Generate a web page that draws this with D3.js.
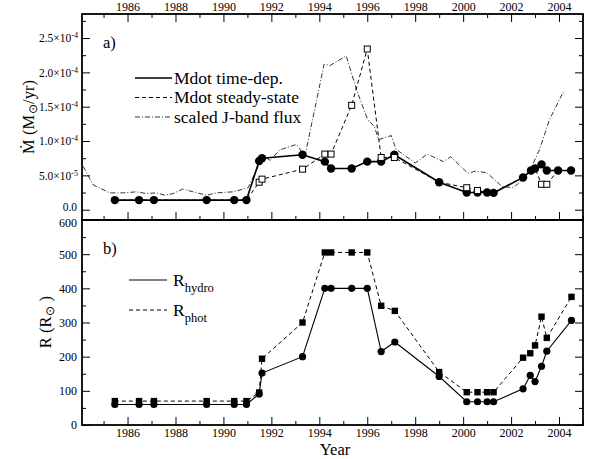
<!DOCTYPE html>
<html>
<head>
<meta charset="utf-8">
<script src="https://cdnjs.cloudflare.com/ajax/libs/d3/7.8.5/d3.min.js"></script>
<style>
  body { margin: 0; background: #fff; }
  svg, svg text { font-family: "Liberation Serif", "Times New Roman", serif; fill: #000; }
  .axis path { display: none; }
  .axis line { stroke: #000; stroke-width: 1; }
</style>
</head>
<body>
<svg id="chart"></svg>
<script>

    var width = 593,
        height = 459;
    var serif = "Liberation Serif, Times New Roman, serif";

    // panel a) mass-loss rate (Msun/yr)
    var tdYears = [1985.47, 1986.48, 1987.1, 1989.3, 1990.45, 1990.96, 1991.49, 1991.61, 1993.3, 1994.23, 1994.49,
                   1995.35, 1996.0, 1996.58, 1997.13, 1999.0, 2000.15, 2000.6, 2001.0, 2001.27, 2002.5, 2002.83,
                   2003.0, 2003.27, 2003.49, 2003.96, 2004.5];
    var mdotTimeDep = [1.4e-5, 1.4e-5, 1.4e-5, 1.4e-5, 1.4e-5, 1.4e-5, 7.1e-5, 7.5e-5, 8.0e-5, 7.0e-5, 6.0e-5,
                       6.0e-5, 7.0e-5, 7.0e-5, 8.0e-5, 4.0e-5, 2.5e-5, 2.5e-5, 2.5e-5, 2.45e-5, 4.7e-5, 5.7e-5,
                       6.0e-5, 6.6e-5, 5.7e-5, 5.7e-5, 5.7e-5];
    var mdotSteady = [1.4e-5, 1.4e-5, 1.4e-5, 1.4e-5, 1.4e-5, 1.4e-5, 4.0e-5, 4.45e-5, 5.9e-5, 8.1e-5, 8.1e-5,
                      15.2e-5, 23.4e-5, 7.6e-5, 7.6e-5, 4.0e-5, 3.2e-5, 2.8e-5, 2.5e-5, 2.5e-5, 4.7e-5, 5.7e-5,
                      6.0e-5, 3.7e-5, 3.7e-5, 5.7e-5, 5.7e-5];

    var jYears = [1984.15, 1984.57, 1985.26, 1985.8, 1986.37, 1986.79, 1987.2, 1987.56, 1987.9, 1988.3, 1988.74,
                  1989.3, 1989.7, 1990.4, 1991.03, 1991.65, 1991.95, 1992.35, 1992.77, 1993.05, 1993.4, 1994.2,
                  1994.45, 1995.12, 1995.55, 1996.02, 1996.3, 1996.47, 1997.0, 1997.2, 1998.0, 1998.5, 1999.18,
                  1999.48, 2000.2, 2000.5, 2000.98, 2001.62, 2002.08, 2002.3, 2002.8, 2003.18, 2003.6, 2004.17, 2004.22];
    var jFlux = [6.3e-5, 3.6e-5, 2.45e-5, 2.45e-5, 2.6e-5, 2.35e-5, 2.45e-5, 2.1e-5, 2.35e-5, 3.0e-5, 2.6e-5,
                 2.1e-5, 2.45e-5, 2.6e-5, 3.2e-5, 7.8e-5, 7.2e-5, 8.7e-5, 9.2e-5, 9.5e-5, 7.8e-5, 21.2e-5,
                 21.0e-5, 22.4e-5, 17.5e-5, 13.1e-5, 12.1e-5, 10.2e-5, 10.8e-5, 8.8e-5, 6.8e-5, 8.1e-5, 7.0e-5,
                 7.7e-5, 5.3e-5, 5.6e-5, 5.4e-5, 3.4e-5, 3.2e-5, 3.8e-5, 5.8e-5, 8.7e-5, 13.1e-5, 17.1e-5, 16.8e-5];

    // panel b) radius (Rsun)
    var rYears = [1985.47, 1986.48, 1987.1, 1989.3, 1990.45, 1990.96, 1991.49, 1991.61, 1993.3, 1994.23, 1994.49,
                  1995.35, 1996.0, 1996.58, 1997.15, 1999.0, 2000.15, 2000.6, 2001.0, 2001.27, 2002.5, 2002.8,
                  2003.0, 2003.27, 2003.49, 2004.52];
    var rHydro = [60, 60, 60, 60, 60, 60, 91, 152, 200, 400, 400, 400, 400, 215, 243, 142, 68, 68, 68, 68,
                  106, 145, 127, 172, 216, 306];
    var rPhot = [70, 70, 70, 70, 70, 70, 95, 194, 300, 505, 505, 505, 505, 349, 334, 155, 96, 96, 96, 96,
                 197, 210, 233, 317, 255, 375];

    var yearTicks = [1986, 1988, 1990, 1992, 1994, 1996, 1998, 2000, 2002, 2004];
    var mdotTicks = [0, 5e-5, 1e-4, 1.5e-4, 2e-4, 2.5e-4];
    var rTicks = [0, 100, 200, 300, 400, 500, 600];

    var left = 82, right = 583, topA = 14, mid = 220, botB = 425;

    var svg = d3.select("#chart")
        .attr("width", width)
        .attr("height", height);

    var x = d3.scaleLinear().domain([1984.1, 2005]).range([left, right]);
    var yA = d3.scaleLinear().domain([-1.5e-5, 2.85e-4]).range([mid, topA]);
    var yB = d3.scaleLinear().domain([0, 600]).range([botB, mid]);

    var minorYears = d3.range(1985, 2006, 2);

    function styleAxis(g) {
        g.attr("font-family", serif).attr("font-size", 12);
        g.selectAll("text").attr("fill", "#000");
        return g;
    }

    // x axes
    function xAxes(y0, orient, labels) {
        var ax = orient === "top" ? d3.axisTop(x) : d3.axisBottom(x);
        var g = svg.append("g").attr("class", "axis").attr("transform", "translate(0," + y0 + ")");
        g.call(ax.tickValues(yearTicks).tickSize(-8).tickPadding(3)
            .tickFormat(labels ? d3.format("d") : ""));
        styleAxis(g);
        var ax2 = orient === "top" ? d3.axisTop(x) : d3.axisBottom(x);
        svg.append("g").attr("class", "axis").attr("transform", "translate(0," + y0 + ")")
            .call(ax2.tickValues(minorYears).tickSize(-4).tickFormat(""));
        return g;
    }
    xAxes(topA, "top", true);
    xAxes(mid, "bottom", false);
    xAxes(botB, "bottom", true);

    // y axes panel a
    var gA = svg.append("g").attr("class", "axis").attr("transform", "translate(" + left + ",0)")
        .call(d3.axisLeft(yA).tickValues(mdotTicks).tickSize(-8).tickFormat(""));
    styleAxis(gA);
    gA.selectAll(".tick").append("text")
        .attr("text-anchor", "end").attr("fill", "#000").attr("font-size", 11.5)
        .each(function(d) {
            var t = d3.select(this);
            if (d === 0) { t.attr("x", -5).attr("dy", "0.1em").text("0.0"); return; }
            var e = Math.floor(Math.log10(d) + 1e-9);
            t.attr("x", -4).attr("dy", "0.32em");
            t.append("tspan").text((d / Math.pow(10, e)).toFixed(1) + "\u00d710");
            t.append("tspan").attr("dy", "-0.5em").attr("font-size", 8).text(String(e));
        });
    var minorA = [2.5e-5, 7.5e-5, 1.25e-4, 1.75e-4, 2.25e-4, 2.75e-4];
    svg.append("g").attr("class", "axis").attr("transform", "translate(" + left + ",0)")
        .call(d3.axisLeft(yA).tickValues(minorA).tickSize(-4).tickFormat(""));
    svg.append("g").attr("class", "axis").attr("transform", "translate(" + right + ",0)")
        .call(d3.axisRight(yA).tickValues(mdotTicks).tickSize(-8).tickFormat(""));
    svg.append("g").attr("class", "axis").attr("transform", "translate(" + right + ",0)")
        .call(d3.axisRight(yA).tickValues(minorA).tickSize(-4).tickFormat(""));

    // y axes panel b
    var gB = svg.append("g").attr("class", "axis").attr("transform", "translate(" + left + ",0)")
        .call(d3.axisLeft(yB).tickValues(rTicks).tickSize(-8).tickPadding(5).tickFormat(d3.format("d")));
    styleAxis(gB);
    gB.selectAll(".tick text").filter(function(d) { return d === 600; }).attr("dy", "0.5em");
    var minorB = [50, 150, 250, 350, 450, 550];
    svg.append("g").attr("class", "axis").attr("transform", "translate(" + left + ",0)")
        .call(d3.axisLeft(yB).tickValues(minorB).tickSize(-4).tickFormat(""));
    svg.append("g").attr("class", "axis").attr("transform", "translate(" + right + ",0)")
        .call(d3.axisRight(yB).tickValues(rTicks.slice(0, 6)).tickSize(-8).tickFormat(""));
    svg.append("g").attr("class", "axis").attr("transform", "translate(" + right + ",0)")
        .call(d3.axisRight(yB).tickValues(minorB).tickSize(-4).tickFormat(""));

    // frames
    svg.append("rect").attr("x", left).attr("y", topA).attr("width", right - left).attr("height", mid - topA)
        .attr("fill", "none").attr("stroke", "#000").attr("stroke-width", 1.8);
    svg.append("rect").attr("x", left).attr("y", mid).attr("width", right - left).attr("height", botB - mid)
        .attr("fill", "none").attr("stroke", "#000").attr("stroke-width", 1.8);

    function pts(xs, ys) { return xs.map(function(d, i) { return [d, ys[i]]; }); }
    var lineA = d3.line().x(function(d) { return x(d[0]); }).y(function(d) { return yA(d[1]); });
    var lineB = d3.line().x(function(d) { return x(d[0]); }).y(function(d) { return yB(d[1]); });

    // panel a lines
    svg.append("path").datum(pts(jYears, jFlux)).attr("d", lineA)
        .attr("fill", "none").attr("stroke", "#000").attr("stroke-width", 0.8).attr("stroke-dasharray", "5,2,1,2");
    svg.append("path").datum(pts(tdYears, mdotSteady)).attr("d", lineA)
        .attr("fill", "none").attr("stroke", "#000").attr("stroke-width", 1).attr("stroke-dasharray", "4,3");
    svg.append("path").datum(pts(tdYears, mdotTimeDep)).attr("d", lineA)
        .attr("fill", "none").attr("stroke", "#000").attr("stroke-width", 1.6);
    svg.append("g").selectAll("circle").data(pts(tdYears, mdotTimeDep)).enter().append("circle")
        .attr("cx", function(d) { return x(d[0]); }).attr("cy", function(d) { return yA(d[1]); })
        .attr("r", 4.2).attr("fill", "#000");
    svg.append("g").selectAll("rect")
        .data(pts(tdYears, mdotSteady).filter(function(d, i) { return Math.abs(d[1] - mdotTimeDep[i]) > 2e-6; }))
        .enter().append("rect")
        .attr("x", function(d) { return x(d[0]) - 3; }).attr("y", function(d) { return yA(d[1]) - 3; })
        .attr("width", 6).attr("height", 6).attr("fill", "#fff").attr("stroke", "#000").attr("stroke-width", 1);

    // panel b lines
    svg.append("path").datum(pts(rYears, rPhot)).attr("d", lineB)
        .attr("fill", "none").attr("stroke", "#000").attr("stroke-width", 1).attr("stroke-dasharray", "4,3");
    svg.append("path").datum(pts(rYears, rHydro)).attr("d", lineB)
        .attr("fill", "none").attr("stroke", "#000").attr("stroke-width", 1.1);
    svg.append("g").selectAll("rect").data(pts(rYears, rPhot)).enter().append("rect")
        .attr("x", function(d) { return x(d[0]) - 3.2; }).attr("y", function(d) { return yB(d[1]) - 3.2; })
        .attr("width", 6.4).attr("height", 6.4).attr("fill", "#000");
    svg.append("g").selectAll("circle").data(pts(rYears, rHydro)).enter().append("circle")
        .attr("cx", function(d) { return x(d[0]); }).attr("cy", function(d) { return yB(d[1]); })
        .attr("r", 3.6).attr("fill", "#000");

    // legends
    var legA = [["Mdot time-dep.", null], ["Mdot steady-state", "4,3"], ["scaled J-band flux", "5,2,1,2"]];
    legA.forEach(function(l, i) {
        var yy = 78 + i * 19.5;
        svg.append("line").attr("x1", 135).attr("x2", 172).attr("y1", yy).attr("y2", yy)
            .attr("stroke", "#000").attr("stroke-width", i === 0 ? 1.6 : (i === 1 ? 1 : 0.8))
            .attr("stroke-dasharray", l[1]);
        svg.append("text").attr("x", 174).attr("y", yy + 5.5).attr("font-family", serif)
            .attr("font-size", 17.5).text(l[0]);
    });
    var legB = [["hydro", null], ["phot", "4,3"]];
    legB.forEach(function(l, i) {
        var yy = 280 + i * 30;
        svg.append("line").attr("x1", 129).attr("x2", 167).attr("y1", yy).attr("y2", yy)
            .attr("stroke", "#000").attr("stroke-width", 1).attr("stroke-dasharray", l[1]);
        var t = svg.append("text").attr("x", 173).attr("y", yy + 5.5).attr("font-family", serif).attr("font-size", 17.5);
        t.append("tspan").text("R");
        t.append("tspan").attr("dy", 6).attr("font-size", 12.5).text(l[0]);
    });

    svg.append("text").attr("x", 103).attr("y", 48).attr("font-family", serif).attr("font-size", 16.5).text("a)");
    svg.append("text").attr("x", 103).attr("y", 254).attr("font-family", serif).attr("font-size", 16.5).text("b)");

    // axis titles
    var tA = svg.append("text").attr("transform", "translate(34,117) rotate(-90)")
        .attr("text-anchor", "middle").attr("font-family", serif).attr("font-size", 16.5);
    tA.append("tspan").text("\u1e40 (M");
    tA.append("tspan").attr("dy", 3).attr("dx", 1).attr("font-size", 12).text("\u2299");
    tA.append("tspan").attr("dy", -3).text("/yr)");

    var tB = svg.append("text").attr("transform", "translate(51,322) rotate(-90)")
        .attr("text-anchor", "middle").attr("font-family", serif).attr("font-size", 16.5);
    tB.append("tspan").text("R (R");
    tB.append("tspan").attr("dy", 3).attr("dx", 1).attr("font-size", 12).text("\u2299");
    tB.append("tspan").attr("dy", -3).text(" )");

    svg.append("text").attr("x", 335).attr("y", 455).attr("text-anchor", "middle")
        .attr("font-family", serif).attr("font-size", 16.5).text("Year");

</script>
</body>
</html>
